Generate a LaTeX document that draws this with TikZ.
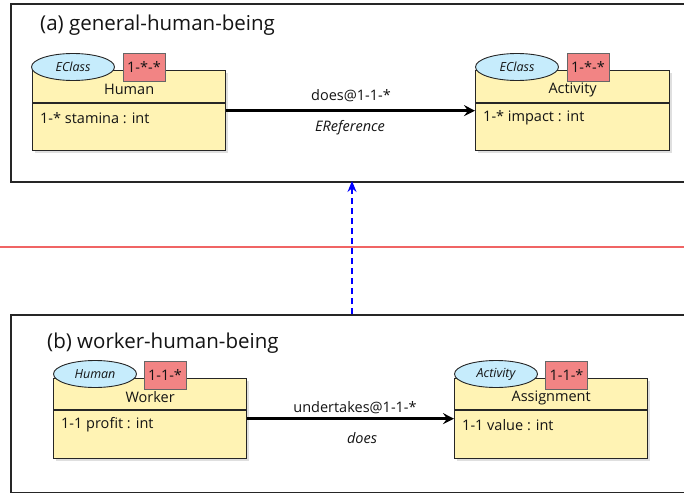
\documentclass[tikz,border=0pt]{standalone}
\usepackage{fontspec}
\setmainfont{Open Sans}
\usetikzlibrary{arrows.meta,shadows,shapes.geometric}
\definecolor{clsfill}{RGB}{255,243,180}
\definecolor{ellfill}{RGB}{198,236,252}
\definecolor{tagfill}{RGB}{242,132,132}
\definecolor{sepred}{RGB}{240,100,100}
\definecolor{txt}{RGB}{20,20,20}
\tikzset{
  pkg/.style={draw=black!85, line width=1.6pt, inner sep=0pt, anchor=north west, minimum height=178pt},
  cls/.style={draw=black!85, line width=1.3pt, fill=clsfill, inner sep=0pt, anchor=north west,
              minimum width=193pt, minimum height=80pt,
              drop shadow={shadow xshift=2pt, shadow yshift=-2pt, opacity=0.25}},
  ell/.style={ellipse, draw=black!85, line width=0.9pt, fill=ellfill, inner sep=0pt,
              minimum width=83pt, minimum height=27pt, font=\fontsize{12.5}{14}\selectfont\itshape, text=txt},
  tagbox/.style={draw=black!60, line width=0.8pt, fill=tagfill, inner sep=0pt,
              minimum width=42pt, minimum height=28pt, font=\fontsize{14.5}{16}\selectfont, text=txt},
  clsname/.style={font=\fontsize{14.5}{16}\selectfont, text=txt, inner sep=0pt},
  attr/.style={font=\fontsize{14.5}{16}\selectfont, text=txt, inner sep=0pt, anchor=west},
  title/.style={font=\fontsize{20.5}{24}\selectfont, text=txt, inner sep=0pt, anchor=west},
  reflabel/.style={font=\fontsize{14.5}{16}\selectfont, text=txt, inner sep=0pt},
  refarrow/.style={line width=2.4pt, -{Stealth[length=11pt,width=11pt,inset=4pt]}},
  refines/.style={blue, line width=1.3pt, dash pattern=on 6pt off 4pt, -{Stealth[length=11pt,width=9pt]}}
}
\begin{document}
\begin{tikzpicture}[x=1pt,y=-1pt]
\useasboundingbox (0,0) rectangle (684,492);
\clip (0,0) rectangle (684,492);
\fill[white] (0,0) rectangle (684,492);

% packages
\node[pkg, minimum width=700pt] (pa) at (10,3) {};
\node[pkg, minimum width=700pt] (pb) at (10,314) {};
\node[title] (ta) at (40,25) {(a) general-human-being};
\node[title] (tb) at (47,343) {(b) worker-human-being};

% separator line
\coordinate (sl) at (0,247);
\coordinate (sr) at (684,247);
\draw[sepred, line width=1.1pt] (sl) -- (sr);

% ---- (a) Human
\node[cls] (human) at (32,70) {};
\draw[line width=1.1pt, black!85] ([yshift=-33pt]human.north west) -- ([yshift=-33pt]human.north east);
\node[clsname] (humanN) at ([yshift=-19.5pt]human.north) {Human};
\node[attr] (humanA) at ([xshift=8pt,yshift=-48pt]human.north west) {1-* stamina : int};
\node[ell] (humanE) at (73,67) {EClass};
\node[tagbox] (humanT) at (144,67) {1-*-*};

% ---- (a) Activity
\node[cls, minimum width=194pt] (act) at (475,70) {};
\draw[line width=1.1pt, black!85] ([yshift=-33pt]act.north west) -- ([yshift=-33pt]act.north east);
\node[clsname] (actN) at ([yshift=-19.5pt]act.north) {Activity};
\node[attr] (actA) at ([xshift=8pt,yshift=-48pt]act.north west) {1-* impact : int};
\node[ell] (actE) at (517,67) {EClass};
\node[tagbox] (actT) at (588,67) {1-*-*};

\draw[refarrow] (human.east) -- (act.west);
\node[reflabel] (l1) at (351,96) {does@1-1-*};
\node[reflabel, font=\fontsize{14.5}{16}\selectfont\itshape] (l2) at (350,128) {EReference};

% ---- (b) Worker
\node[cls] (worker) at (53,378) {};
\draw[line width=1.1pt, black!85] ([yshift=-32pt]worker.north west) -- ([yshift=-32pt]worker.north east);
\node[clsname] (workerN) at ([yshift=-19.5pt]worker.north) {Worker};
\node[attr] (workerA) at ([xshift=8pt,yshift=-47pt]worker.north west) {1-1 profit : int};
\node[ell] (workerE) at (95,374) {Human};
\node[tagbox] (workerT) at (165,375) {1-1-*};

% ---- (b) Assignment
\node[cls] (asg) at (454,378) {};
\draw[line width=1.1pt, black!85] ([yshift=-32pt]asg.north west) -- ([yshift=-32pt]asg.north east);
\node[clsname] (asgN) at ([yshift=-19.5pt]asg.north) {Assignment};
\node[attr] (asgA) at ([xshift=8pt,yshift=-47pt]asg.north west) {1-1 value : int};
\node[ell] (asgE) at (496,374) {Activity};
\node[tagbox] (asgT) at (566.5,375) {1-1-*};

\draw[refarrow] (worker.east) -- (asg.west);
\node[reflabel] (l3) at (355,408) {undertakes@1-1-*};
\node[reflabel, font=\fontsize{14.5}{16}\selectfont\itshape] (l4) at (362,438) {does};

% refinement arrow
\coordinate (rb) at (352,314);
\coordinate (ra) at (352,181);
\draw[refines] (rb) -- (ra);
\end{tikzpicture}
\end{document}
